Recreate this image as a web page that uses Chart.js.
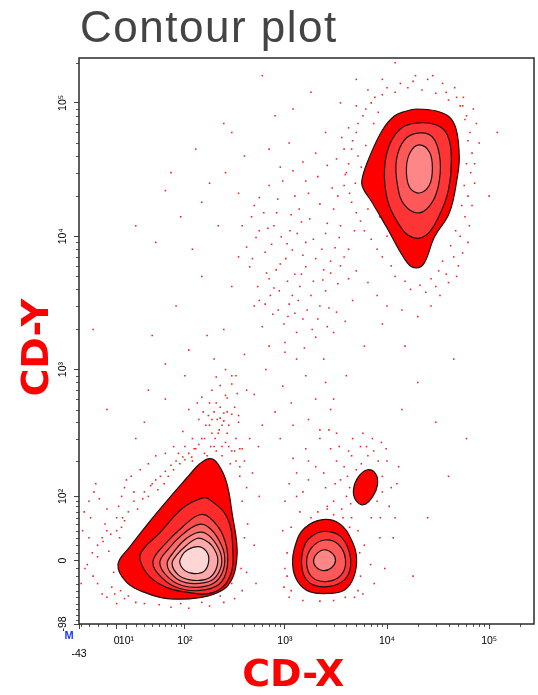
<!DOCTYPE html>
<html>
<head>
<meta charset="utf-8">
<script src="https://cdn.jsdelivr.net/npm/chart.js@4.4.1/dist/chart.umd.min.js"></script>
<style>
html, body { margin: 0; padding: 0; background: #fff; }
canvas { display: block; }
</style>
</head>
<body>
<canvas id="contourChart" width="538" height="695"></canvas>
<script>
// axis ticks
const xTickValues = [-43, 0, 10, 100, 1000, 10000, 100000];
const xTickLabels = ['-43', '0', '10¹', '10²', '10³', '10⁴', '10⁵'];
const yTickValues = [-98, 0, 100, 1000, 10000, 100000];
const yTickLabels = ['-98', '0', '10²', '10³', '10⁴', '10⁵'];

// contour levels, outermost first, as [CD-X, CD-Y]
const popA1 = [[1.3,-5.1],[10.5,-28.8],[31,-43],[63,-52],[143,-50.5],[244,-39],[306,-22],[336,1.3],[336,23],[306,62],[267,132],[218,190],[181,209],[143,190],[105,146],[47,69],[13.7,18]];
const popA2 = [[24.7,1.3],[37,-21],[63,-35.7],[95,-41.5],[194,-43],[286,-21],[306,18],[267,62],[181,93],[154,97],[95,77],[51,37],[28,14]];
const popA3 = [[41,-1.3],[54,-22],[88,-37],[161,-39],[239,-27],[274,1.3],[244,34],[181,60],[143,65],[100,49],[59,21]];
const popA4 = [[51,-2.6],[64,-21],[95,-33],[161,-34],[223,-23.3],[256,1.3],[223,27],[173,46],[137,49],[93,34],[64,14]];
const popA5 = [[63,-3.8],[74,-19.4],[102,-28.8],[161,-28.8],[208,-21],[239,0],[208,22],[165,36],[133,37],[97,26],[74,10]];
const popA6 = [[72,-3.8],[84,-18],[110,-24.7],[161,-24.7],[198,-16.7],[218,1.3],[194,18],[161,27],[133,29],[102,19],[82,7.7]];
const popA7 = [[88,-2.6],[100,-12.8],[127,-16.7],[161,-12.8],[177,1.3],[165,12.8],[137,18],[107,14],[93,6.4]];

const popB1 = [[19400,89950],[30400,86900],[40800,78300],[47700,62600],[51000,39300],[48800,27800],[40800,15000],[29100,9890],[23200,6320],[19400,5790],[15800,6320],[9870,11750],[7200,17780],[5750,23420],[5750,27830],[6730,39290],[9020,62600],[11800,79700],[15500,86900]];
const popB2 = [[19400,70600],[30400,68300],[39000,57400],[42600,37300],[39900,22200],[32600,14450],[24300,10240],[17300,9890],[12650,12810],[10100,18720],[9440,31400],[10570,48360],[13840,64800]];
const popB3 = [[20700,59500],[27800,55500],[32600,40700],[32600,26400],[27800,18100],[20700,14960],[14800,17170],[12650,24250],[12360,37300],[14800,52700]];
const popB4 = [[20700,48400],[26000,42850],[27800,32500],[26000,24250],[20700,21100],[16560,23400],[15480,32500],[16940,42850]];

const popC1 = [[2340,57],[3430,50.5],[4490,27],[5030,3.8],[4700,-22],[3840,-39],[2740,-44],[1745,-41.5],[1330,-27],[1190,-5.1],[1270,21],[1560,44]];
const popC2 = [[2450,39],[3430,33],[4200,14],[4390,-7.7],[3840,-24.7],[2740,-34],[1870,-31.5],[1525,-18],[1457,3.8],[1595,23],[1910,34]];
const popC3 = [[2450,27],[3350,21],[3920,1.3],[3580,-18],[2620,-27],[1870,-22],[1630,-2.6],[1825,16.7]];
const popC4 = [[2450,14],[2930,9],[3130,0],[2860,-9],[2390,-12.8],[2000,-7.7],[1910,1.3],[2090,10]];

const popD1 = [[6440,170],[7710,158],[8060,127],[7210,99],[5880,83],[4910,93],[4700,117],[5260,149]];

// outlier events outside the contours
const events = [
  [520,9800],[640,7600],[780,12000],[900,6200],[1050,8800],[1250,5200],[700,4800],[880,3900],[1100,3100],[1400,4200],
  [1650,2800],[560,3300],[760,2600],[980,2200],[1300,1900],[1800,3600],[2100,2400],[2400,5600],[620,15000],[850,19000],
  [1150,14500],[1500,7200],[1900,9500],[2600,12500],[3100,8200],[450,5900],[600,2100],[1000,1600],[1250,2650],[1550,1450],
  [2000,1750],[2700,2900],[3300,4400],[820,5600],[1120,11000],[1380,16000],[1700,21000],[2200,17500],[2900,23000],[680,11500],
  [950,26000],[1200,31000],[380,12000],[500,17000],[420,8300],[350,21000],[300,4200],[720,3600],[1600,5900],[2000,6800],
  [2500,3900],[3000,1900],
  [480,6800],[560,11000],[740,8700],[830,15000],[920,9900],[1020,6800],[1180,7900],[1320,10500],[1450,12800],[1600,9000],
  [1750,13500],[2300,8000],[2500,10500],[2800,6500],[3400,9800],[3800,7000],[660,5300],[780,4100],[1060,4600],[1180,3600],
  [1350,3300],[1500,2400],[1850,2000],[2200,3000],[2600,2100],[3200,2700],[540,4200],[640,3100],[860,2800],[1070,2500],
  [1450,5200],[1900,4600],[2350,4700],[2800,5300],[3500,6000],[4200,4800],[4600,3300],[3900,2300],[1250,20000],[1600,26000],
  [2100,28000],[2600,34000],[900,33000],[700,24000],[560,19500],[470,14000],
  [300,900],[400,1300],[500,650],[650,1000],[800,480],[950,750],[1150,560],[1300,1200],[1600,900],[2000,600],
  [2500,800],[350,450],[450,300],[600,380],[900,300],[1200,380],[1700,420],[2200,350],[2800,500],[3200,330],
  [700,1500],[1000,1350],[2400,1200],[550,260],[420,700],
  [110,500],[140,420],[180,380],[220,330],[260,280],[300,240],[160,300],[200,260],[240,220],[130,250],
  [170,220],[280,380],[330,300],[95,340],[120,200],[250,470],[210,560],[150,620],[190,700],[320,520],
  [380,250],[360,180],[290,190],[85,230],[230,430],[270,610],[175,450],[135,560],
  [160,230],[185,260],[205,300],[225,350],[250,410],[270,330],[210,240],[240,260],[190,330],[165,380],
  [230,520],[260,640],[300,780],[340,660],[200,480],[180,560],[150,300],[280,260],[320,240],[350,400],
  [120,300],[100,260],[300,460],[240,380],[215,420],[270,480],[190,420],[155,480],[330,900],[260,1000],
  [230,760],[210,880],
  [-30,30],[-20,5],[-25,-20],[-12,50],[-5,-35],[2,80],[8,120],[15,150],[25,170],[35,190],
  [45,220],[-15,-45],[-35,-10],[-8,12],[0,-60],[5,100],[60,230],[75,260],[-28,60],[-18,95],
  [20,-58],[50,-62],[90,-60],[150,-58],[230,-48],[300,-30],[370,-10],[400,30],[380,90],[360,150],
  [330,200],[10,140],[-3,-15],[40,130],[18,110],[-22,130],
  [-10,40],[0,60],[5,45],[12,70],[18,90],[22,75],[30,110],[38,125],[45,140],[52,150],
  [60,165],[70,185],[80,200],[95,215],[110,230],[125,250],[140,270],[-20,20],[-15,30],[3,30],
  [8,55],[28,95],[35,100],[48,115],[58,130],[65,150],[75,170],[88,190],[100,205],[118,215],
  [-38,40],[-32,-5],[-26,10],[-20,-30],[-14,25],[-10,-50],[-6,35],[-2,-45],[4,-40],[8,-52],
  [12,-48],[-40,-30],[-36,70],[-30,90],[-24,110],[0,40],[6,60],[-10,75],[30,-60],[70,-66],
  [110,-68],[180,-64],[250,-58],[320,-52],[380,-40],[420,-15],[430,50],[420,120],[400,200],[360,250],
  [500,20],[520,-30],[560,100],[480,160],
  [950,40],[1050,-20],[1000,90],[1100,130],[1300,160],[1500,110],[1700,140],[2000,180],[2500,120],[3000,90],
  [3500,140],[4000,100],[4500,60],[5200,40],[6000,20],[7000,60],[8000,90],[9000,150],[10000,200],[11000,120],
  [6500,220],[5500,260],[4500,220],[3800,180],[2800,250],[2200,300],[1600,250],[1200,210],[8500,30],[9500,-10],
  [7500,-30],[5800,-45],[4800,-50],[1100,-50],[980,-35],[12000,60],[13000,180],[3200,200],[2600,80],[5000,170],
  [4200,240],[7400,240],[8800,280],[6200,130],[6900,-5],
  [1800,60],[2100,70],[2600,75],[3000,65],[3700,60],[4300,45],[5400,10],[5500,-20],[5200,-40],[1400,70],
  [1150,45],[1050,10],[1000,-10],[1150,-40],[1500,-55],[2200,-56],[3000,-55],[3900,-50],[4400,85],[4300,120],
  [5600,190],[6300,260],[7200,300],[8200,200],[9000,110],[8600,60],[1700,200],[2400,160],[3100,130],[4100,150],
  [3400,260],[2700,350],[5800,330],[4600,300],[3600,75],[1300,100],[10500,80],[11500,30],[9800,250],[12500,130],
  [4000,30000],[4500,45000],[5000,60000],[5800,80000],[7000,100000],[9000,115000],[12000,120000],[16000,130000],[22000,125000],[30000,118000],
  [40000,105000],[52000,95000],[60000,80000],[65000,60000],[68000,42000],[66000,30000],[62000,20000],[58000,14000],[52000,10000],[45000,7000],
  [38000,5200],[30000,4200],[24000,3800],[17000,4000],[12000,5000],[9000,7000],[7000,9500],[5500,13000],[4500,18000],[3800,24000],
  [3500,12000],[4200,8000],[5000,5500],[6500,4500],[8000,3600],[10000,3000],[14000,2800],[3000,16000],[3200,38000],[3600,55000],
  [25000,150000],[35000,140000],[18000,145000],[75000,70000],[80000,50000],[72000,25000],[64000,12000],[55000,7500],[48000,5000],[20000,2500],
  [27000,3000],[6000,30000],[5200,40000],[7000,22000],[8500,14000],[10000,10000],[6500,16000],[4800,11000],[46000,130000],[56000,110000],
  [4200,35000],[4600,52000],[5200,70000],[6200,90000],[7600,110000],[10000,130000],[13500,140000],[19000,160000],[28000,160000],[38000,120000],
  [48000,110000],[55000,95000],[58000,75000],[62000,52000],[60000,35000],[57000,24000],[54000,17000],[47000,11000],[42000,8500],[35000,6500],
  [32000,5500],[27000,4800],[21000,4300],[15000,4600],[11000,6000],[8000,8000],[6000,11000],[5000,15000],[4300,21000],[3900,29000],
  [3300,20000],[3800,45000],[4200,65000],[5000,95000],[6500,125000],[9000,150000],[70000,90000],[72000,35000],[68000,17000],[62000,9000],
  [50000,6000],[40000,4500],[33000,3600],[4900,25000],[5600,33000],[6200,48000],[7400,70000],[8200,85000],
  [60,22000],[20,12000],[90,14000],[120,8000],[150,18000],[180,25000],[260,30000],[400,40000],[700,45000],[1100,50000],
  [1500,36000],[2000,42000],[300,60000],[150,5000],[80,3000],[40,1800],[250,2000],[200,1200],[100,900],[60,600],
  [30,400],[2500,60000],[5000,150000],[3500,100000],[1200,90000],[9000,2200],[15000,1500],[20000,800],[30000,400],[45000,1200],
  [40000,150],[25000,60],[18000,-20],[60000,300],[14000,500],[100000,20000],[120000,60000],[6000,1500],[4000,900],[3000,600],
  [45,9000],[70,30000],[130,45000],[220,12000],[350,7000],[500,3000],[170,1800],[110,1400],[60,1100],[35,700],
  [20,300],[-10,500],[-25,2000],[250,70000],[800,80000],[1800,120000],[12000,200000],[600,160000]
];

// arcsinh display scale, linear around zero and logarithmic further out
class BiexScale extends Chart.LinearScale {
  static id = 'biex';
  static defaults = {};
  tf(v) { return Math.asinh(v / this.options.cofactor); }
  getPixelForValue(value) {
    const lo = this.tf(this.min), hi = this.tf(this.max);
    return this.getPixelForDecimal((this.tf(value) - lo) / (hi - lo));
  }
  getValueForPixel(pixel) {
    const lo = this.tf(this.min), hi = this.tf(this.max);
    return Math.sinh(lo + this.getDecimalForPixel(pixel) * (hi - lo)) * this.options.cofactor;
  }
}
Chart.register(BiexScale);

const toXY = arr => arr.map(([x, y]) => ({x, y}));

function contour(points, fill, order) {
  return {
    type: 'line',
    data: toXY(points),
    backgroundColor: fill,
    borderColor: '#1c1010',
    borderWidth: 1.2,
    fill: 'shape',
    tension: 0.4,
    pointRadius: 0,
    closed: true,
    order: order
  };
}

// close each contour into a smooth loop
const closeLoops = {
  id: 'closeLoops',
  afterDatasetUpdate(chart, args) {
    const line = args.meta.dataset;
    if (line && chart.data.datasets[args.index].closed) {
      line._loop = true;
      line._fullLoop = true;
      line._pointsUpdated = false;
      delete line._segments;
      delete line._path;
    }
  }
};

const minorX = [-40, -30, -20, -10];
const minorY = [-90, -80, -70, -60, -50, -40, -30, -20, -10, 10];
for (let d = 10; d <= 100000; d *= 10) {
  for (let k = 2; k <= 9; k++) { minorX.push(k * d); minorY.push(k * d); }
}

const decorations = {
  id: 'decorations',
  afterDraw(chart) {
    const {ctx, chartArea: a, scales: {x, y}} = chart;
    ctx.save();
    // minor ticks
    ctx.strokeStyle = '#555';
    ctx.lineWidth = 1;
    ctx.beginPath();
    minorX.forEach(v => {
      if (v < x.min || v > x.max) return;
      const p = Math.round(x.getPixelForValue(v)) + 0.5;
      ctx.moveTo(p, a.bottom); ctx.lineTo(p, a.bottom + 3);
    });
    minorY.forEach(v => {
      if (v < y.min || v > y.max) return;
      const p = Math.round(y.getPixelForValue(v)) + 0.5;
      ctx.moveTo(a.left, p); ctx.lineTo(a.left - 3, p);
    });
    ctx.stroke();
    // plot frame
    ctx.strokeStyle = '#2a2a2a';
    ctx.lineWidth = 1.5;
    ctx.strokeRect(a.left, a.top, a.right - a.left, a.bottom - a.top);
    // title
    ctx.fillStyle = '#444';
    ctx.font = '44px "Liberation Sans"';
    ctx.letterSpacing = '1.5px';
    ctx.textBaseline = 'alphabetic';
    ctx.textAlign = 'left';
    ctx.fillText('Contour plot', 80, 42);
    ctx.letterSpacing = '0px';
    // corner marker
    ctx.fillStyle = '#1a3cff';
    ctx.font = 'bold 11px "Liberation Sans"';
    ctx.textAlign = 'center';
    ctx.fillText('M', 69, 639);
    ctx.restore();
  }
};

const datasets = [
  {
    data: toXY(events),
    pointStyle: 'rect',
    pointRadius: 1.1,
    borderWidth: 0,
    backgroundColor: 'rgba(255,0,0,0.9)',
    order: 100
  },
  contour(popA1, '#ff0000', 30),
  contour(popA2, '#ff2b2b', 29),
  contour(popA3, '#ff4a4a', 28),
  contour(popA4, '#ff6a6a', 27),
  contour(popA5, '#ff8c8c', 26),
  contour(popA6, '#ffaaaa', 25),
  contour(popA7, '#ffd6d6', 24),
  contour(popB1, '#ff0000', 30),
  contour(popB2, '#ff3535', 29),
  contour(popB3, '#ff5858', 28),
  contour(popB4, '#ff8686', 27),
  contour(popC1, '#ff0000', 30),
  contour(popC2, '#ff3535', 29),
  contour(popC3, '#ff5858', 28),
  contour(popC4, '#ff8686', 27),
  contour(popD1, '#ff0000', 30)
];

const tickFont = {family: 'Liberation Sans', size: 10.5};

new Chart(document.getElementById('contourChart'), {
  type: 'scatter',
  data: {datasets},
  plugins: [closeLoops, decorations],
  options: {
    responsive: false,
    animation: false,
    layout: {padding: {top: 58, right: 3, left: 0, bottom: 0}},
    plugins: {
      legend: {display: false},
      tooltip: {enabled: false}
    },
    scales: {
      x: {
        type: 'biex',
        cofactor: 45,
        min: -43,
        max: 275000,
        bounds: 'data',
        afterBuildTicks: s => { s.ticks = xTickValues.map(v => ({value: v})); },
        afterFit: s => { s.height = 71; },
        ticks: {
          autoSkip: false, minRotation: 0, maxRotation: 0, padding: 6,
          color: '#000', font: tickFont,
          // the axis minimum sits one line lower, under the corner marker
          callback: (v, i) => (i === 0 ? ['', xTickLabels[i]] : xTickLabels[i])
        },
        grid: {display: true, drawOnChartArea: false, tickLength: 5, color: '#444'},
        border: {display: false},
        title: {
          display: true, text: 'CD-X\u00a0\u00a0', color: '#ff0000',
          font: {family: 'DejaVu Sans', weight: 'bold', size: 38, lineHeight: 1},
          padding: {top: 0, bottom: 0}
        }
      },
      y: {
        type: 'biex',
        cofactor: 74,
        min: -98,
        max: 217000,
        bounds: 'data',
        afterBuildTicks: s => { s.ticks = yTickValues.map(v => ({value: v})); },
        afterFit: s => { s.width = 79; },
        ticks: {
          autoSkip: false, minRotation: 90, maxRotation: 90, padding: 3,
          crossAlign: 'center',
          color: '#000', font: tickFont,
          callback: (v, i) => yTickLabels[i]
        },
        grid: {display: true, drawOnChartArea: false, tickLength: 5, color: '#444'},
        border: {display: false},
        title: {
          display: true, text: 'CD-Y\u00a0', color: '#ff0000',
          font: {family: 'DejaVu Sans', weight: 'bold', size: 38, lineHeight: 1},
          padding: {top: 19, bottom: 0}
        }
      }
    }
  }
});
</script>
</body>
</html>
